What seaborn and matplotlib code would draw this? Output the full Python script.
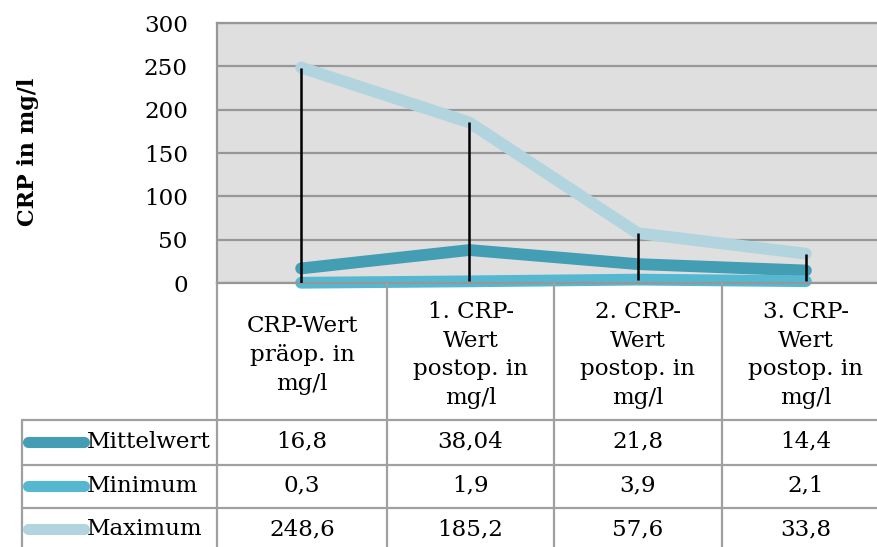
import matplotlib
matplotlib.use("Agg")
import matplotlib.pyplot as plt
import seaborn as sns
import pandas as pd
import numpy as np

categories = ["CRP-Wert\npräop. in\nmg/l", "1. CRP-\nWert\npostop. in\nmg/l",
              "2. CRP-\nWert\npostop. in\nmg/l", "3. CRP-\nWert\npostop. in\nmg/l"]
series_names = ["Mittelwert", "Minimum", "Maximum"]
mittelwert = [16.8, 38.04, 21.8, 14.4]
minimum = [0.3, 1.9, 3.9, 2.1]
maximum = [248.6, 185.2, 57.6, 33.8]
value_labels = {
    "Mittelwert": ["16,8", "38,04", "21,8", "14,4"],
    "Minimum": ["0,3", "1,9", "3,9", "2,1"],
    "Maximum": ["248,6", "185,2", "57,6", "33,8"],
}
colors = {"Mittelwert": "#439DB3", "Minimum": "#55B8D0", "Maximum": "#B2D4DE"}
yticks = [0, 50, 100, 150, 200, 250, 300]

sns.set_theme(style="white")
plt.rcParams["font.family"] = ["DejaVu Serif"]
plt.rcParams["text.color"] = "black"
plt.rcParams["ytick.color"] = "black"

FS = 16.6
W, H = 877, 547
fig = plt.figure(figsize=(W / 100, H / 100), dpi=100)

# main plot axes (pixel geometry)
left, right, top, bottom = 217, 890, 23, 283
ax = fig.add_axes([left / W, 1 - bottom / H, (right - left) / W, (bottom - top) / H])
ax.set_facecolor("#DFDFDF")

df = pd.DataFrame({
    "x": list(range(4)) * 3,
    "value": mittelwert + minimum + maximum,
    "series": sum([[s] * 4 for s in series_names], []),
})
# high-low lines
ax.vlines(range(4), minimum, maximum, color="black", lw=1.8, zorder=3)
sns.lineplot(data=df, x="x", y="value", hue="series", palette=colors, ax=ax,
             lw=8.5, legend=False, zorder=2, solid_capstyle="round")
ax.set_xlim(-0.5, 3.5)
ax.set_ylim(0, 300)
ax.set_yticks(yticks)
ax.set_yticklabels([str(t) for t in yticks], fontsize=FS)
ax.set_xticks([])
ax.set_xlabel("")
ax.set_ylabel("")
ax.yaxis.grid(True, color="#979797", lw=1.6)
ax.set_axisbelow(True)
ax.tick_params(axis="y", length=0, pad=21)
for sp in ax.spines.values():
    sp.set_color("#979797")
    sp.set_linewidth(1.6)
for l in ax.lines:
    l.set_clip_on(False)

fig.text(28 / W, 1 - 152 / H, "CRP in mg/l", rotation=90, ha="center", va="center",
         fontsize=16, fontweight="bold")

# data table overlay
tax = fig.add_axes([0, 0, 1, 1], facecolor="none")
tax.set_xlim(0, W)
tax.set_ylim(H, 0)
tax.axis("off")
gc = "#A0A0A0"
col_edges = [217, 387, 554, 722, 890]
col_centers = [(col_edges[i] + col_edges[i + 1]) / 2 for i in range(4)]
row_edges = [420, 465, 508, 551]
for xe in col_edges[:4]:
    tax.plot([xe, xe], [283, 551], color=gc, lw=1.6, clip_on=True)
tax.plot([22, 22], [420, 551], color=gc, lw=1.6)
for ye in row_edges[:3]:
    tax.plot([22, 890], [ye, ye], color=gc, lw=1.6)

for i, c in enumerate(categories):
    tax.text(col_centers[i], 355, c, ha="center", va="center", fontsize=FS,
             linespacing=1.4)

for r, s in enumerate(series_names):
    yc = (row_edges[r] + row_edges[r + 1]) / 2 - 1
    if r == 2:
        yc = 529
    tax.plot([28, 84], [yc, yc], color=colors[s], lw=8, solid_capstyle="round")
    tax.text(87, yc, s, ha="left", va="center", fontsize=FS)
    for i in range(4):
        tax.text(col_centers[i], yc, value_labels[s][i], ha="center", va="center",
                 fontsize=FS)

fig.savefig("out.png", dpi=100)
